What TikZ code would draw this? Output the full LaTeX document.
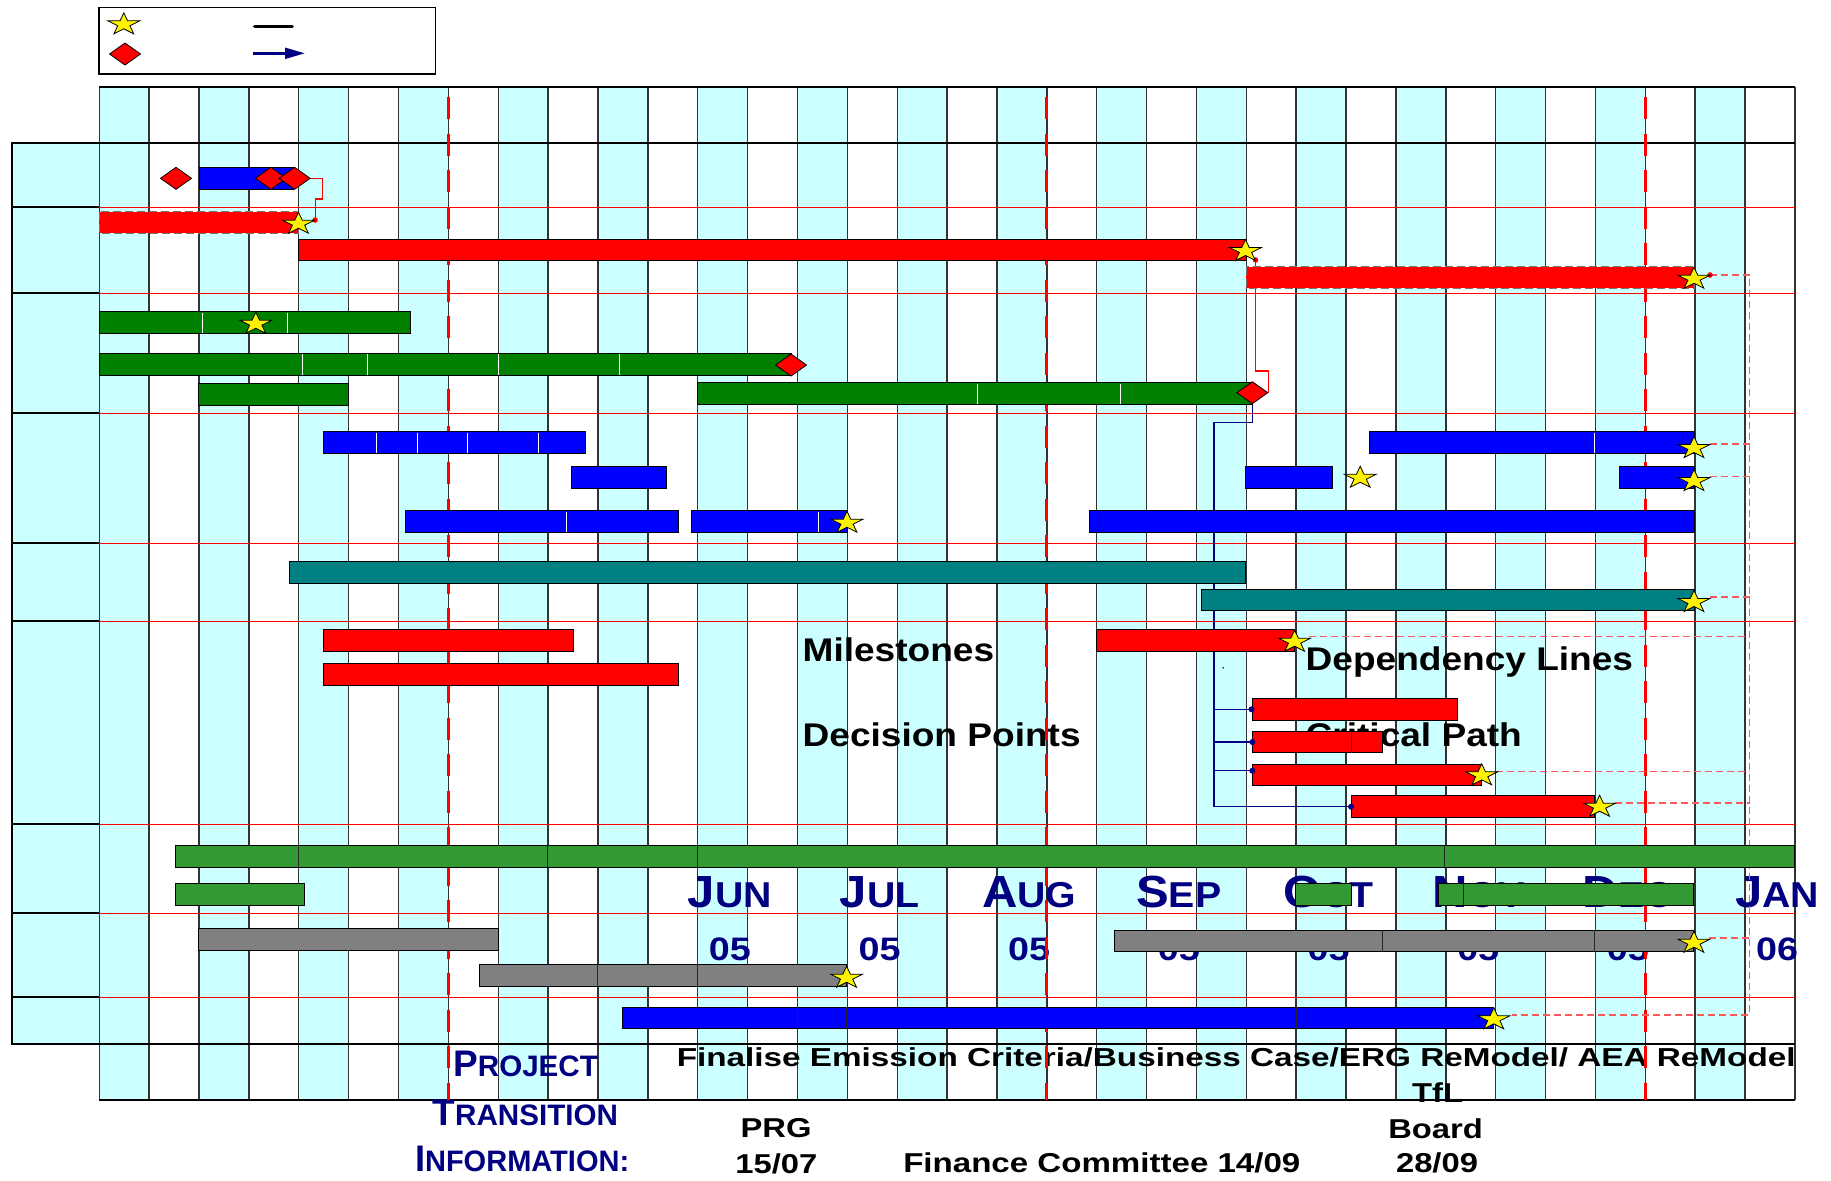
\documentclass[tikz,border=0pt]{standalone}
\usepackage{fontspec}
\setmainfont{Liberation Sans}
\definecolor{cellcyan}{RGB}{204,255,255}
\definecolor{navy}{RGB}{0,0,128}
\definecolor{dkgreen}{RGB}{0,128,0}
\definecolor{ltgreen}{RGB}{51,153,51}
\definecolor{tealc}{RGB}{0,128,128}
\definecolor{grayc}{RGB}{128,128,128}
\definecolor{lightred}{RGB}{255,90,90}
\newcommand\gb[5]{\draw[#1] (#2,#3) rectangle (#4,#5);}
\newcommand\bsep[4]{\draw[#1] (#2,#3) -- (#2,#4);}
\newcommand\mstar[2]{\draw[starsty,shift={(#1,#2+1.1)},xscale=16.8,yscale=11.6] (0,-1) -- (0.2245,-0.309) -- (0.951,-0.309) -- (0.363,0.118) -- (0.588,0.809) -- (0,0.382) -- (-0.588,0.809) -- (-0.363,0.118) -- (-0.951,-0.309) -- (-0.2245,-0.309) -- cycle;}
\newcommand\mdia[2]{\draw[diasty,shift={(#1,#2)},xscale=15.5,yscale=11] (-1,0) -- (0,-1) -- (1,0) -- (0,1) -- cycle;}
\newcommand\scap[2]{{\fontsize{37}{37}\selectfont #1}{\fontsize{29.6}{29.6}\selectfont #2}}
\newcommand\mlab[4]{\node[lbl,anchor=base,xscale=1.09,text=navy,font=\bfseries] (m#1) at (#2,907.3) {{\fontsize{45}{45}\selectfont #3}{\fontsize{36}{36}\selectfont #4}};}
\newcommand\ylab[3]{\node[lbl,anchor=base,xscale=1.16,text=navy,font=\bfseries\fontsize{32.5}{32.5}\selectfont] (y#1) at (#2,960) {#3};}
\begin{document}
\begin{tikzpicture}[x=0.5pt,y=-0.5pt,
  lbl/.style={inner sep=0pt,scale=0.5},
  bigtxt/.style={lbl,anchor=base west,xscale=1.13,font=\bfseries\fontsize{32.8}{32.8}\selectfont},
  btmtxt/.style={lbl,anchor=base west,xscale=1.2,font=\bfseries\fontsize{27.3}{27.3}\selectfont},
  sctxt/.style={lbl,anchor=base west,text=navy,font=\bfseries},
  gridln/.style={black!80,line width=0.7pt},
  rowred/.style={red,line width=0.5pt},
  hdrcell/.style={fill=cellcyan,draw=black,line width=0.8pt},
  msline/.style={red,line width=1.5pt,dash pattern=on 11pt off 7.25pt},
  depred/.style={red,line width=0.6pt},
  depblue/.style={navy,line width=0.6pt},
  depdash/.style={lightred,line width=0.7pt,dash pattern=on 3.5pt off 2pt},
  barbase/.style={draw=black,line width=0.5pt},
  redbar/.style={barbase,fill=red},
  reddash/.style={fill=red,draw=black!55,line width=0.5pt,dash pattern=on 4pt off 2pt},
  bluebar/.style={barbase,fill=blue},
  greenbar/.style={barbase,fill=dkgreen},
  lgreenbar/.style={barbase,fill=ltgreen},
  tealbar/.style={barbase,fill=tealc},
  graybar/.style={barbase,fill=grayc},
  wsep/.style={white,line width=0.45pt},
  dsep/.style={black!85,line width=0.5pt},
  starsty/.style={fill=yellow,draw=black,line width=0.4pt},
  diasty/.style={fill=red,draw=black,line width=0.4pt}]
\useasboundingbox (0,0) rectangle (1831,1180);
\fill[white] (0,0) rectangle (1831,1180);
% grid background
\foreach \k in {0,2,...,32} {\fill[cellcyan] ({99.3+49.87*\k},87) rectangle ({99.3+49.87*(\k+1)},1100);}
\foreach \ra/\rb in {143/207,207/293,293/413,413/543,543/621,621/824,824/913,913/997,997/1044}
  {\draw[hdrcell] (12,\ra) rectangle (99.3,\rb);}
\foreach \k in {0,...,34} {\draw[gridln] ({99.3+49.87*\k},87) -- ({99.3+49.87*\k},1100);}
\foreach \yy in {87,143,1044,1100} {\draw[black,line width=0.7pt] (99.3,\yy) -- (1794.9,\yy);}
\foreach \yy in {207,293,413,543,621,824,913,997} {\draw[rowred] (99.3,\yy) -- (1794.9,\yy);}
% legend
\draw[black,line width=0.75pt] (99,7.3) rectangle (435.7,74);
\mstar{123.8}{23.3}
\mdia{125}{54}
\draw[black,line width=1.5pt,line cap=round] (254.5,26.7) -- (292.4,26.7);
\draw[navy,line width=1.5pt] (253.4,53.3) -- (287,53.3);
\fill[navy] (285,47.5) -- (304.5,53.3) -- (285,59.1) -- cycle;
% texts
\node[bigtxt] (ms) at (802.4,661.7) {Milestones};
\node[bigtxt] (dp) at (802.4,746.7) {Decision Points};
\node[bigtxt] (dl) at (1305.4,670) {Dependency Lines};
\node[bigtxt] (cp) at (1305.4,746) {Critical Path};
\mlab{1}{729.8}{J}{UN}
\mlab{2}{879.6}{J}{UL}
\mlab{3}{1029.2}{A}{UG}
\mlab{4}{1178.8}{S}{EP}
\mlab{5}{1328.5}{O}{CT}
\mlab{6}{1478.2}{N}{OV}
\mlab{7}{1627.8}{D}{EC}
\mlab{8}{1777}{J}{AN}
\ylab{1}{729.8}{05}
\ylab{2}{879.6}{05}
\ylab{3}{1029.2}{05}
\ylab{4}{1178.8}{05}
\ylab{5}{1328.5}{05}
\ylab{6}{1478.2}{05}
\ylab{7}{1627.8}{05}
\ylab{8}{1777}{06}
\node[lbl,anchor=base west,xscale=1.28,font=\bfseries\fontsize{26}{26}\selectfont] (fin) at (676.5,1066.7) {Finalise Emission Criteria/Business Case/ERG ReModel/ AEA ReModel};
\node[sctxt] (prj) at (453,1076.7) {\scap{P}{ROJECT}};
\node[sctxt] (trn) at (432.4,1125) {\scap{T}{RANSITION}};
\node[sctxt,xscale=0.98] (inf) at (414.8,1171.7) {\scap{I}{NFORMATION:}};
\node[btmtxt] (prg) at (740.4,1137.3) {PRG};
\node[btmtxt] (prgd) at (735.1,1173.3) {15/07};
\node[btmtxt,xscale=1.01] (fc) at (903,1172.7) {Finance Committee 14/09};
\node[btmtxt] (tfl) at (1411.9,1102.3) {TfL};
\node[btmtxt] (brd) at (1388,1138.3) {Board};
\node[btmtxt] (brdd) at (1395.8,1172.7) {28/09};
% milestone dashed lines
\foreach \k in {7,19,31} {\draw[msline] ({99.3+49.87*\k},97) -- ({99.3+49.87*\k},1100);}
% dependency lines
\draw[depred] (310.4,178.3) -- (322.3,178.3) -- (322.3,199) -- (315.1,199) -- (315.1,220);
\draw[depred] (1255.5,260) -- (1255.5,371) -- (1268.4,371) -- (1268.4,392.7);
\draw[depblue] (1252.3,404) -- (1252.3,422.3) -- (1214,422.3) -- (1214,806.7) -- (1351,806.7);
\draw[depblue] (1214,709.3) -- (1251.5,709.3);
\draw[depblue] (1214,742) -- (1251.5,742);
\draw[depblue] (1214,770.7) -- (1251.5,770.7);
\fill[navy] (1223.3,667.7) circle (0.9);
\draw[depdash] (1710,275) -- (1749.7,275) -- (1749.7,1015) -- (1511.6,1015);
\foreach \yy in {444,476.3,597} {\draw[depdash] (1710,\yy) -- (1749.7,\yy);}
\draw[depdash] (1308.6,636.7) -- (1749.7,636.7);
\draw[depdash] (1495.8,771.7) -- (1749.7,771.7);
\draw[depdash] (1614.5,803) -- (1749.7,803);
\draw[depdash] (1708.7,938) -- (1749.7,938);
% row 1
\gb{bluebar}{199}{167.3}{293.4}{189.3}
% row 2
\gb{reddash}{99.3}{211.7}{298.5}{233.3}
\gb{redbar}{298.8}{239}{1246.3}{260}
\gb{reddash}{1246.3}{266.7}{1694}{288.3}
% row 3
\gb{greenbar}{99.3}{311.7}{410.4}{333.3}
\foreach \xx in {202,287} {\bsep{wsep}{\xx}{312.5}{332.5}}
\gb{greenbar}{99.6}{353.3}{791}{375.7}
\foreach \xx in {302,367.5,498.4,619} {\bsep{wsep}{\xx}{354}{375}}
\gb{greenbar}{198.9}{383.3}{348.5}{405}
\gb{greenbar}{697.7}{382.7}{1252.3}{404.3}
\foreach \xx in {977.6,1120.4} {\bsep{wsep}{\xx}{383.5}{403.5}}
% row 4
\gb{bluebar}{323.4}{431.7}{585.6}{453.7}
\foreach \xx in {376,417.5,467,538.5} {\bsep{wsep}{\xx}{432.5}{453}}
\gb{bluebar}{571.7}{466.3}{666.4}{488.3}
\gb{bluebar}{405.3}{510.7}{678.3}{532.3}
\bsep{wsep}{566.6}{511.5}{531.5}
\gb{bluebar}{691}{510.7}{847}{532.3}
\bsep{wsep}{818.7}{511.5}{531.5}
\gb{bluebar}{1089.5}{510.7}{1694}{532.3}
\gb{bluebar}{1369.8}{431.7}{1694}{453.3}
\bsep{wsep}{1594.4}{432.5}{452.5}
\gb{bluebar}{1245.5}{466.3}{1332.4}{488.3}
\gb{bluebar}{1619.3}{466.3}{1694}{488.3}
% row 5
\gb{tealbar}{289.4}{561.3}{1245.5}{583.3}
\gb{tealbar}{1201.2}{589.3}{1694}{610.7}
% row 6
\gb{redbar}{323.4}{629.3}{573.3}{651.7}
\gb{redbar}{323.4}{663.3}{678.4}{685}
\gb{redbar}{1096.2}{629.3}{1294.6}{651.7}
\gb{redbar}{1252.3}{698.7}{1457.5}{720.3}
\gb{redbar}{1252.3}{731.3}{1382.3}{752.7}
\bsep{dsep}{1351.3}{731.3}{752.7}
\gb{redbar}{1252.3}{764}{1481.7}{785.7}
\gb{redbar}{1351.3}{795.7}{1594.4}{817.3}
% row 7
\gb{lgreenbar}{175.2}{845.3}{1794.9}{867}
\foreach \xx in {298.5,547.6,697.7,1444.7} {\bsep{dsep}{\xx}{845.3}{867}}
\gb{lgreenbar}{175.2}{883.3}{304.8}{905}
\gb{lgreenbar}{1295.4}{883.3}{1351.3}{905}
\gb{lgreenbar}{1438.6}{883.3}{1693.7}{905}
\bsep{dsep}{1463.6}{883.3}{905}
% row 8
\gb{graybar}{198.3}{928.3}{498.1}{950}
\gb{graybar}{479.3}{964.7}{846.6}{986.7}
\foreach \xx in {597.3,697.6} {\bsep{dsep}{\xx}{964.7}{986.7}}
\gb{graybar}{1114.4}{930}{1693.9}{951.7}
\foreach \xx in {1382.2,1594.7} {\bsep{dsep}{\xx}{930}{951.7}}
% row 9
\gb{bluebar}{622.5}{1007}{1493.8}{1028.3}
\foreach \xx in {797.3,846.6,1296.6} {\bsep{dsep}{\xx}{1007}{1028.3}}
% dots
\fill[red] (315.1,220) circle (2.8);
\fill[red] (1255.5,260) circle (2.8);
\fill[red] (1710,275) circle (2.8);
\fill[navy] (1251.5,709.3) circle (3);
\fill[navy] (1252.3,742) circle (3);
\fill[navy] (1252.3,770.7) circle (3);
\fill[navy] (1351,806.7) circle (3);
% diamonds
\mdia{176}{178.3}
\mdia{270.9}{178.3}
\mdia{294.6}{178.3}
\mdia{791}{365}
\mdia{1252.3}{392.7}
% stars
\mstar{298.5}{222.7}
\mstar{1245.5}{250}
\mstar{1694}{277.7}
\mstar{255.8}{322.7}
\mstar{847}{521.7}
\mstar{1694}{447}
\mstar{1360.2}{476.7}
\mstar{1694}{480}
\mstar{1694}{601}
\mstar{1294.6}{640.7}
\mstar{1481.7}{774.3}
\mstar{1599.6}{805.7}
\mstar{846.6}{976.7}
\mstar{1693.9}{941.7}
\mstar{1493.8}{1018.3}
\end{tikzpicture}
\end{document}
